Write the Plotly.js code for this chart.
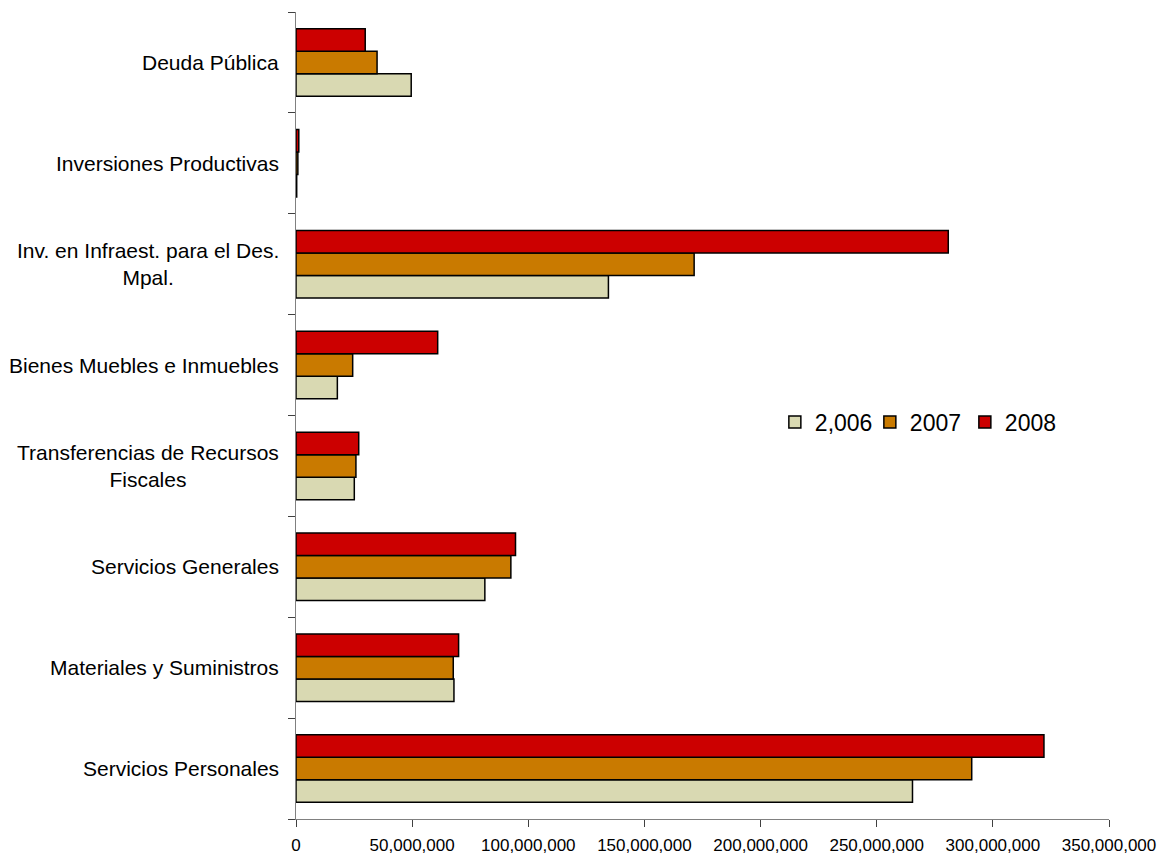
<!DOCTYPE html>
<html>
<head>
<meta charset="utf-8">
<script src="https://cdn.plot.ly/plotly-3.0.1.min.js"></script>
<style>html,body{margin:0;padding:0;background:#fff;}#chart{width:1163px;height:856px;}</style>
</head>
<body>
<div id="chart"></div>
<script>
const categories = [
  "Servicios Personales",
  "Materiales y Suministros",
  "Servicios Generales",
  "Transferencias de Recursos<br>Fiscales",
  "Bienes Muebles e Inmuebles",
  "Inv. en Infraest. para el Des.<br>Mpal.",
  "Inversiones Productivas",
  "Deuda Pública"
];
const seriesNames = ["2,006", "2007", "2008"];
const values2006 = [265400000, 68000000, 81300000, 25100000, 17800000, 134500000, 300000, 49600000];
const values2007 = [290900000, 67700000, 92500000, 25800000, 24400000, 171400000, 800000, 34900000];
const values2008 = [322000000, 70000000, 94500000, 27000000, 61000000, 280800000, 1200000, 29800000];
const tickValues = [0, 50000000, 100000000, 150000000, 200000000, 250000000, 300000000, 350000000];
const tickLabels = ["0", "50,000,000", "100,000,000", "150,000,000", "200,000,000", "250,000,000", "300,000,000", "350,000,000"];

const colors = ["#D9D9B2", "#C97A00", "#CC0000"];
const allValues = [values2006, values2007, values2008];
const FONT = "Liberation Sans, Arial, sans-serif";

const traces = allValues.map((vals, i) => ({
  type: "bar",
  orientation: "h",
  name: seriesNames[i],
  x: vals,
  y: categories,
  marker: { color: colors[i], line: { color: "#000000", width: 1.5 } },
  hoverinfo: "x+y"
}));

const annotations = categories.map(c => ({
  text: c,
  xref: "paper",
  yref: "y",
  x: 0,
  y: c,
  xanchor: "right",
  yanchor: "middle",
  xshift: -15,
  align: "center",
  showarrow: false,
  font: { size: 21, family: FONT, color: "#000000" }
}));

const layout = {
  width: 1163,
  height: 856,
  paper_bgcolor: "#ffffff",
  plot_bgcolor: "#ffffff",
  margin: { l: 296, r: 54, t: 12, b: 37 },
  barmode: "group",
  bargap: 0.33,
  bargroupgap: 0,
  font: { family: FONT, color: "#000000" },
  annotations: annotations,
  xaxis: {
    range: [0, 350000000],
    tickvals: tickValues,
    ticktext: tickLabels,
    ticks: "outside",
    ticklen: 7,
    tickcolor: "#404040",
    tickwidth: 1,
    showline: true,
    linecolor: "#808080",
    linewidth: 1,
    showgrid: false,
    zeroline: false,
    automargin: false,
    ticklabelstandoff: 4,
    tickfont: { size: 17, family: FONT, color: "#000000" }
  },
  yaxis: {
    type: "category",
    categoryorder: "array",
    categoryarray: categories,
    ticks: "outside",
    tickson: "boundaries",
    ticklen: 7,
    tickcolor: "#404040",
    tickwidth: 1,
    showline: true,
    linecolor: "#808080",
    linewidth: 1,
    showgrid: false,
    zeroline: false,
    automargin: false,
    showticklabels: false
  },
  legend: {
    orientation: "h",
    x: 0.589,
    y: 0.492,
    xanchor: "left",
    yanchor: "middle",
    entrywidth: 50,
    bgcolor: "rgba(0,0,0,0)",
    traceorder: "normal",
    font: { size: 23, family: FONT, color: "#000000" }
  },
  showlegend: true
};

Plotly.newPlot("chart", traces, layout, { displayModeBar: false, staticPlot: true });
</script>
</body>
</html>
